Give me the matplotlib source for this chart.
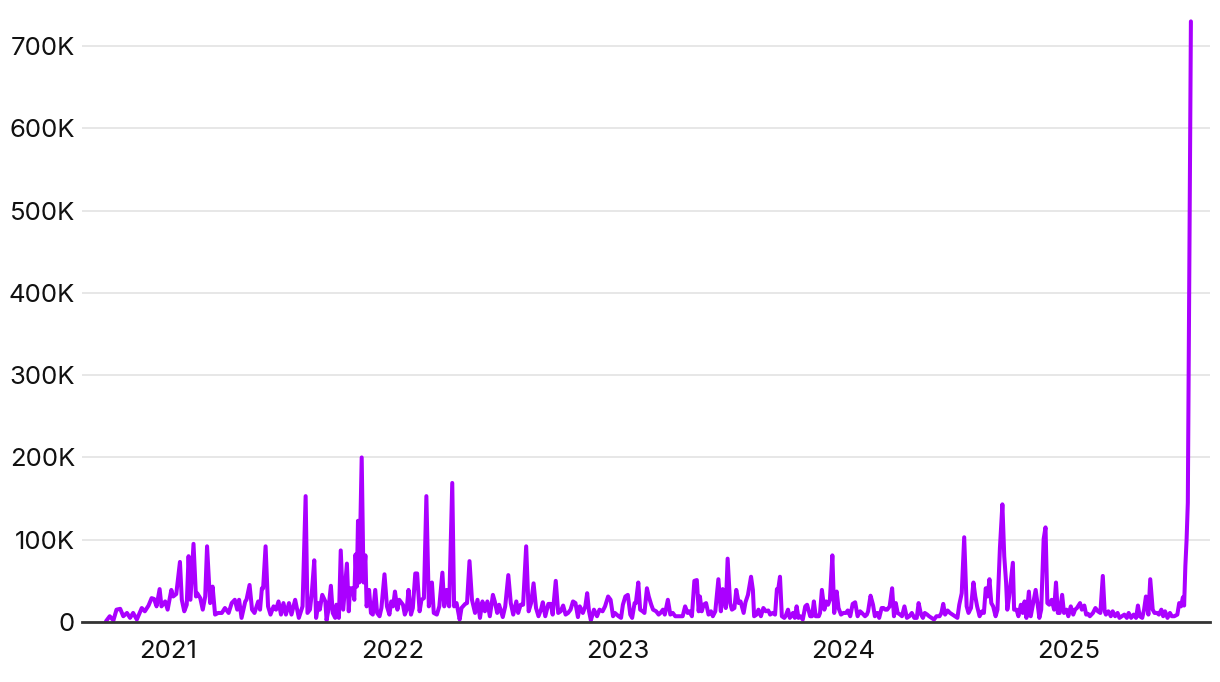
import numpy as np
import pandas as pd
import matplotlib
matplotlib.use('Agg')
import matplotlib.pyplot as plt
from matplotlib.ticker import FuncFormatter

start_date = '2020-09-22'

# days since start_date
day_offset = [
    0, 6, 12, 17, 23, 28, 34, 39, 44, 50, 58, 63, 69, 74, 78, 82, 87, 90, 96, 100,
    106, 109, 114, 120, 123, 127, 131, 134, 137, 142, 146, 148, 153,
    157, 161, 164, 169, 173, 177, 182, 188, 193, 199, 204, 209, 213, 216, 220, 226, 228, 233,
    237, 241, 247, 250, 253, 255, 259, 263, 267, 272, 276, 280, 284, 288, 292, 297, 301, 307, 313,
    319, 324, 327, 331, 334, 338, 341, 345, 347, 351, 356, 358, 361, 365, 368, 372, 374, 378, 381, 385,
    388, 391, 394, 396, 400, 403, 405, 407, 409, 411, 415, 418, 421, 423, 427, 430, 433, 437, 440, 444,
    447, 452, 456, 460, 463, 466, 469, 473, 476,
    482, 485, 488, 491, 495, 498, 502, 505, 509, 512, 516, 520, 524, 529, 532, 537, 541, 546, 549, 553,
    557, 562, 565, 569, 574, 577, 583, 586, 590, 594, 599, 603, 607, 611, 615, 619, 623, 628, 631, 635, 638,
    644, 648, 653, 657, 661, 666, 669, 673, 677, 682, 686, 690, 694, 698, 702, 706, 709, 713, 718, 722,
    725, 730, 734, 738, 742, 746, 750, 754, 758, 762, 766, 769, 774, 778, 781, 784, 787, 792, 797, 801,
    806, 810, 815, 819, 823, 826, 832, 836, 839, 843, 847, 851, 854, 858, 860, 864, 867, 871, 874, 878,
    881, 885, 888, 893, 897, 900, 904, 907, 912, 916, 920, 924, 927, 932, 936, 940, 944, 947, 951, 955, 959, 962,
    964, 967, 970, 974, 978, 982, 985, 989, 994, 998, 1001, 1003, 1006, 1009, 1013, 1016, 1020, 1023, 1027, 1030,
    1035, 1038, 1042, 1047, 1050, 1052, 1056, 1059, 1063, 1067, 1071, 1075, 1078, 1082, 1086, 1089, 1091, 1094,
    1097, 1101, 1103, 1107, 1110, 1115, 1118, 1121, 1124,
    1127, 1131, 1135, 1138, 1143, 1146, 1149, 1152, 1157, 1159, 1162, 1166, 1169, 1172, 1175, 1179, 1182, 1186,
    1189, 1193, 1197, 1201, 1204, 1208, 1212, 1216, 1220, 1224, 1227, 1232, 1235, 1237, 1241, 1245, 1248, 1252,
    1255, 1259, 1262, 1265, 1268, 1272, 1276, 1279, 1282, 1285, 1289,
    1292, 1296, 1300, 1304, 1308, 1312, 1316, 1319, 1323, 1326, 1329, 1333, 1336, 1340, 1344, 1348, 1353, 1356,
    1359, 1362, 1366, 1370, 1374, 1378, 1382, 1385, 1389, 1393, 1397, 1400, 1404, 1408, 1411, 1414, 1418, 1422,
    1425, 1428, 1431, 1434, 1437, 1440, 1444, 1447, 1451,
    1455, 1458, 1461, 1463, 1466, 1469, 1472, 1474, 1478, 1481, 1485, 1488, 1491, 1494, 1498, 1501, 1504, 1509,
    1512, 1515, 1518, 1522, 1525, 1528, 1531, 1535, 1539, 1542, 1545, 1548, 1552, 1555, 1559, 1562, 1566, 1570,
    1573, 1576, 1581, 1584, 1588, 1591, 1594, 1597, 1602, 1606, 1610, 1614,
    1618, 1621, 1623, 1627, 1631, 1634, 1638, 1642, 1645, 1649, 1653, 1657, 1660, 1664, 1668, 1672, 1675, 1678,
    1682, 1685, 1688, 1692, 1695, 1699, 1702, 1706, 1709, 1713, 1716, 1719, 1723, 1727, 1730, 1734, 1739, 1742,
    1745, 1748, 1750, 1752, 1754, 1756, 1761,
]

# values in thousands
views_k = [
    1, 7, 2, 15, 16, 7, 11, 5, 11, 3, 17, 13, 20, 29, 28, 19, 40, 19, 25, 15,
    39, 31, 34, 73, 27, 13, 21, 80, 27, 95, 31, 35, 29,
    15, 31, 92, 23, 43, 9, 11, 11, 17, 11, 23, 27, 15, 27, 5, 25, 27, 45,
    15, 11, 25, 15, 41, 41, 92, 19, 9, 19, 15, 25, 9, 23, 9, 23, 9, 27, 5,
    19, 153, 11, 15, 35, 75, 5, 23, 15, 33, 25, 2, 15, 44, 11, 5, 21, 5, 87, 15,
    43, 71, 13, 41, 41, 27, 82, 43, 123, 48, 200, 48, 81, 19, 39, 11, 9, 39, 11, 7,
    17, 58, 19, 9, 25, 19, 37, 15, 27,
    21, 9, 15, 39, 9, 17, 59, 59, 13, 27, 29, 153, 19, 48, 11, 9, 19, 60, 19, 39,
    19, 169, 19, 23, 3, 17, 22, 23, 74, 27, 11, 27, 5, 25, 13, 25, 7, 33, 25, 11, 21,
    6, 19, 57, 23, 9, 25, 11, 21, 21, 92, 13, 23, 47, 17, 7, 15, 24, 7, 22, 22,
    9, 50, 11, 13, 20, 9, 11, 15, 25, 23, 6, 19, 11, 19, 35, 13, 2, 15, 7, 15,
    13, 19, 31, 27, 7, 11, 7, 5, 21, 31, 33, 9, 5, 23, 23, 48, 15, 13, 11, 41,
    31, 21, 15, 13, 9, 11, 15, 9, 27, 9, 11, 7, 7, 7, 7, 19, 11, 13, 7, 50, 51, 13,
    31, 13, 21, 23, 9, 13, 7, 13, 52, 13, 40, 37, 17, 77, 23, 15, 17, 39, 23, 25,
    11, 24, 33, 55, 39, 7, 9, 15, 7, 17, 13, 14, 9, 11, 9, 40, 39, 55,
    7, 5, 7, 15, 5, 11, 5, 19, 5,
    7, 3, 19, 21, 7, 7, 25, 7, 7, 11, 39, 15, 25, 21, 27, 81, 11, 37,
    17, 9, 11, 11, 14, 7, 22, 24, 7, 13, 11, 7, 9, 13, 32, 21, 7, 11,
    5, 17, 17, 15, 15, 19, 41, 7, 23, 11, 9,
    7, 19, 5, 7, 11, 5, 5, 23, 9, 5, 11, 9, 7, 5, 3, 7, 7, 11,
    22, 9, 14, 11, 9, 7, 5, 21, 35, 103, 19, 11, 17, 48, 31, 19, 7, 13,
    11, 41, 31, 52, 23, 19, 7, 15, 90,
    143, 80, 48, 15, 31, 52, 72, 15, 15, 7, 21, 11, 25, 5, 37, 7, 19, 39,
    23, 5, 15, 101, 115, 23, 21, 27, 15, 48, 11, 11, 33, 11, 15, 7, 19, 9,
    15, 17, 23, 15, 20, 9, 10, 7, 11, 17, 13, 11,
    56, 13, 9, 13, 7, 13, 7, 11, 5, 7, 9, 5, 11, 5, 9, 5, 20, 7,
    5, 15, 31, 9, 52, 15, 11, 11, 9, 15, 7, 13, 5, 11, 7, 7, 9, 23,
    19, 30, 20, 68, 100, 145, 730,
]

year_ticks = ['2021-01-01', '2022-01-01', '2023-01-01', '2024-01-01', '2025-01-01']
year_labels = ['2021', '2022', '2023', '2024', '2025']
y_ticks_k = [0, 100, 200, 300, 400, 500, 600, 700]

plt.rcParams['font.family'] = ['Inter', 'DejaVu Sans']

start = pd.Timestamp(start_date)
dates = start + pd.to_timedelta(day_offset, unit='D')
values = np.array(views_k) * 1000

fig = plt.figure(figsize=(12.2, 6.82), dpi=100)
ax = fig.add_axes([82 / 1220, 60 / 682, 1128 / 1220, 622 / 682])

ax.plot(dates, values, color='#aa00ff', lw=2.9, solid_joinstyle='round', solid_capstyle='round', clip_on=False)

ax.set_xlim(start - pd.Timedelta(days=39), start + pd.Timedelta(days=1792))
ax.set_ylim(0, 756000)

ax.set_yticks([v * 1000 for v in y_ticks_k])
ax.yaxis.set_major_formatter(FuncFormatter(lambda v, p: '0' if v == 0 else f'{int(v / 1000)}K'))
ax.set_xticks(pd.to_datetime(year_ticks))
ax.set_xticklabels(year_labels)

ax.yaxis.grid(True, color='#e3e3e3', lw=1.2)
ax.set_axisbelow(True)
for side in ['top', 'right', 'left']:
    ax.spines[side].set_visible(False)
ax.spines['bottom'].set_color('#333333')
ax.spines['bottom'].set_linewidth(2)

ax.tick_params(axis='both', length=0, labelsize=18.5, colors='#111111')
ax.tick_params(axis='y', pad=5)
ax.tick_params(axis='x', pad=13)

fig.savefig('out.png', dpi=100)
